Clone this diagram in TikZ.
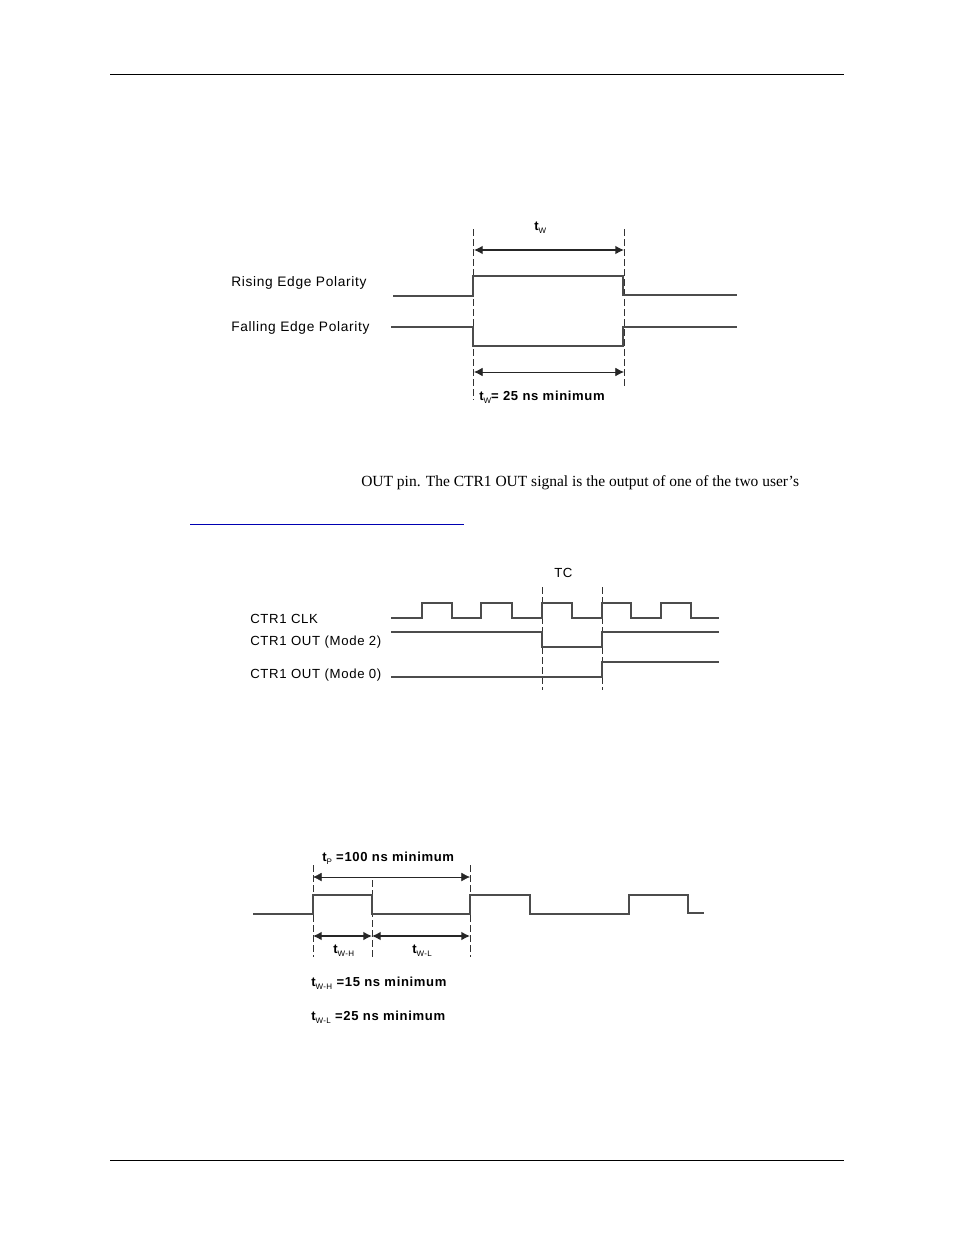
\documentclass[tikz,border=0pt]{standalone}
\usepackage{fontspec}
\setmainfont{Liberation Sans}
\newfontfamily\bodyfont{Liberation Serif}
\newfontfamily\sigfont[LetterSpace=5]{Liberation Sans}
\usetikzlibrary{arrows.meta}
\newcommand{\subtxt}[1]{\raisebox{-0.5ex}{\fontsize{6}{6}\selectfont\mdseries #1}}

\begin{document}
\begin{tikzpicture}[
    x=0.75pt, y=-0.75pt,
    wave/.style={line width=1pt, black!70},
    guide/.style={line width=0.6pt, black!80, dash pattern=on 5pt off 2.5pt},
    dimen/.style={{Latex[length=6.5pt,width=6.5pt]}-{Latex[length=6.5pt,width=6.5pt]}, line width=0.6pt, black!85},
    rulerline/.style={line width=0.6pt, black},
    sig/.style={anchor=west, inner sep=0pt, font=\fontsize{10.3}{11}\sigfont},
    ctrlab/.style={anchor=west, inner sep=0pt, font=\fontsize{9.9}{11}\sigfont},
    siglab/.style={anchor=west, inner sep=0pt, font=\fontsize{9.8}{11}\sigfont\bfseries}
]
\useasboundingbox (0,0) rectangle (954,1235);
\fill[white] (0,0) rectangle (954,1235);

% Page rules and text
\draw[rulerline] (110,74) -- (844,74);
\draw[rulerline] (110,1160) -- (844,1160);
\draw[line width=0.6pt, blue!70!black] (190,524) -- (464,524);
\node[anchor=west, inner sep=0pt, font=\fontsize{11.62}{13}\bodyfont] (bodyline) at (361,483) {OUT pin. The CTR1 OUT signal is the output of one of the two user’s};

% Diagram 1: Polarity
\coordinate (A1) at (473,229);
\coordinate (A2) at (473,400);
\coordinate (B1) at (624,229);
\coordinate (B2) at (624,386);
\coordinate (P1) at (474,250);
\coordinate (P2) at (624,250);
\coordinate (Q1) at (474,372);
\coordinate (Q2) at (624,372);
\draw[guide] (A1) -- (A2);
\draw[guide] (B1) -- (B2);
\draw[dimen, line width=1pt] (P1) -- (P2);
\draw[dimen] (Q1) -- (Q2);
\draw[wave] (393,296) -- (473,296) -- (473,276) -- (623,276) -- (623,295) -- (737,295);
\draw[wave] (391,327) -- (473,327) -- (473,346) -- (623,346) -- (623,327) -- (737,327);
\node[sig] (rising) at (231,283) {Rising Edge Polarity};
\node[sig] (falling) at (231,328) {Falling Edge Polarity};
\node[siglab] (twtop) at (534,228) {t\subtxt{W}};
\node[siglab] (twmin) at (479,397) {t\subtxt{W}= 25 ns minimum};

% Diagram 2: Terminal count
\coordinate (C1) at (542,587);
\coordinate (C2) at (542,690);
\coordinate (D1) at (602,587);
\coordinate (D2) at (602,690);
\draw[guide] (C1) -- (C2);
\draw[guide] (D1) -- (D2);
\draw[wave] (391,618) -- (422,618) -- (422,603) -- (452,603) -- (452,618)
    -- (481,618) -- (481,603) -- (512,603) -- (512,618) -- (542,618)
    -- (542,603) -- (572,603) -- (572,618) -- (602,618) -- (602,603)
    -- (631,603) -- (631,618) -- (661,618) -- (661,603) -- (691,603)
    -- (691,618) -- (719,618);
\draw[wave] (391,632) -- (542,632) -- (542,647) -- (602,647) -- (602,632) -- (719,632);
\draw[wave] (391,677) -- (602,677) -- (602,662) -- (719,662);
\node[ctrlab] (clk) at (250,619) {CTR1 CLK};
\node[ctrlab] (mode2) at (250,642) {CTR1 OUT (Mode 2)};
\node[ctrlab] (mode0) at (250,675) {CTR1 OUT (Mode 0)};
\node[ctrlab] (tc) at (554,573) {TC};

% Diagram 3: Clock timing
\coordinate (E1) at (313,865);
\coordinate (E2) at (313,957);
\coordinate (F1) at (372,880);
\coordinate (F2) at (372,957);
\coordinate (G1) at (470,865);
\coordinate (G2) at (470,957);
\coordinate (R1) at (313,877);
\coordinate (R2) at (470,877);
\coordinate (S1) at (313,936);
\coordinate (S2) at (372,936);
\coordinate (S3) at (470,936);
\draw[guide] (E1) -- (E2);
\draw[guide, line width=0.4pt] (F1) -- (F2);
\draw[guide] (G1) -- (G2);
\draw[dimen, line width=0.4pt] (R1) -- (R2);
\draw[dimen, line width=1pt] (S1) -- (S2);
\draw[dimen, line width=1pt] (S2) -- (S3);
\draw[wave] (253,914) -- (313,914) -- (313,895) -- (372,895) -- (372,914) -- (470,914)
    -- (470,895) -- (530,895) -- (530,914) -- (629,914) -- (629,895) -- (688,895)
    -- (688,913) -- (704,913);
\node[siglab] (tp) at (322,858) {t\subtxt{P} =100 ns minimum};
\node[siglab] (twh) at (333,951) {t\subtxt{W-H}};
\node[siglab] (twl) at (412,951) {t\subtxt{W-L}};
\node[siglab] (twhmin) at (311,983) {t\subtxt{W-H} =15 ns minimum};
\node[siglab] (twlmin) at (311,1017) {t\subtxt{W-L} =25 ns minimum};
\end{tikzpicture}
\end{document}
